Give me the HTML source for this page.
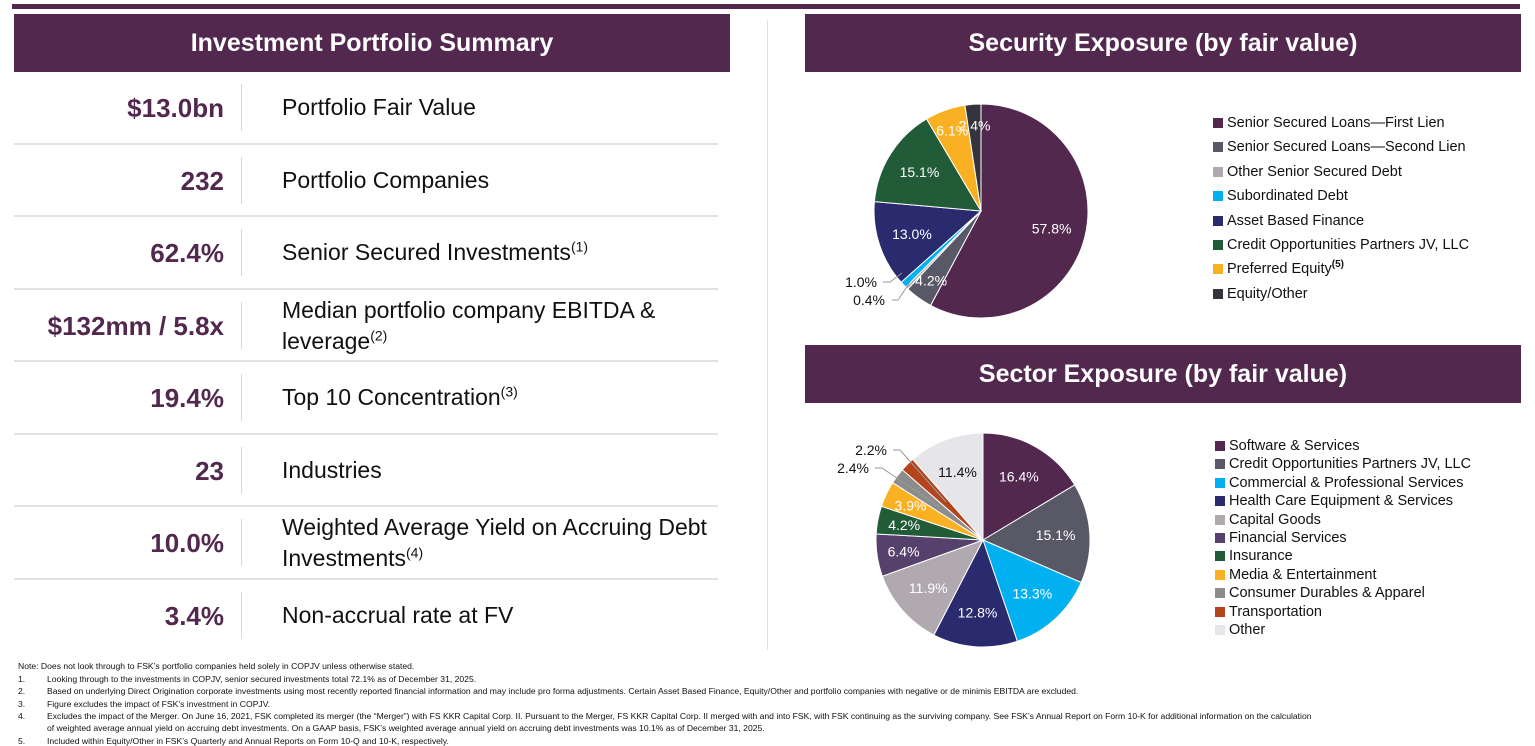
<!DOCTYPE html>
<html><head><meta charset="utf-8"><style>
body{margin:0;width:1535px;height:746px;background:#fff;position:relative;overflow:hidden;font-family:"Liberation Sans",sans-serif}
.abs{position:absolute}
.hdr{position:absolute;background:#52284e;color:#fff;font-weight:bold;font-size:25px;text-align:center;line-height:58px}
.row{position:absolute;left:14px;width:704px;border-bottom:2px solid #e2e2e2}
.val{position:absolute;right:494px;color:#52284e;font-weight:bold;font-size:26px;white-space:nowrap}
.vl{position:absolute;left:227px;width:1px;background:#d8d8d8}
.lab{position:absolute;left:268px;font-size:23px;color:#111;line-height:31px}
sup{font-size:14px;line-height:0}
.lg{position:absolute;font-size:14.5px;color:#111;white-space:nowrap}
.lg i{display:inline-block;width:10px;height:10px;margin-right:4px;vertical-align:-1px}
.fn{position:absolute;left:18px;font-size:8.6px;color:#111;white-space:nowrap}
.fn span{position:absolute;left:0}
.fn b{font-weight:normal;position:absolute;left:29px}
</style></head><body>
<div class="abs" style="left:12px;top:4px;width:1508px;height:5px;background:#52284e"></div>
<div class="hdr" style="left:14px;top:14px;width:716px">Investment Portfolio Summary</div>
<div class="hdr" style="left:805px;top:14px;width:716px">Security Exposure (by fair value)</div>
<div class="hdr" style="left:805px;top:345px;width:716px">Sector Exposure (by fair value)</div>
<div class="abs" style="left:767px;top:20px;width:1px;height:630px;background:#e0e0e0"></div>

<div id="rows"></div>

<svg class="abs" style="left:0;top:0" width="1535" height="746" id="pies"></svg>

<div>
<div class="lg" style="left:1213px;top:115px"><i style="background:#52284e"></i>Senior Secured Loans—First Lien</div>
<div class="lg" style="left:1213px;top:139px"><i style="background:#595867"></i>Senior Secured Loans—Second Lien</div>
<div class="lg" style="left:1213px;top:164px"><i style="background:#b0aab0"></i>Other Senior Secured Debt</div>
<div class="lg" style="left:1213px;top:188px"><i style="background:#00b0f0"></i>Subordinated Debt</div>
<div class="lg" style="left:1213px;top:213px"><i style="background:#292b6e"></i>Asset Based Finance</div>
<div class="lg" style="left:1213px;top:237px"><i style="background:#225b38"></i>Credit Opportunities Partners JV, LLC</div>
<div class="lg" style="left:1213px;top:261px"><i style="background:#f9b123"></i>Preferred Equity<sup style="font-size:10px;font-weight:bold">(5)</sup></div>
<div class="lg" style="left:1213px;top:286px"><i style="background:#34343e"></i>Equity/Other</div>
</div>
<div id="leg2"></div>

<div>
<div class="fn" style="top:661px">Note: Does not look through to FSK’s portfolio companies held solely in COPJV unless otherwise stated.</div>
<div class="fn" style="top:674px"><span>1.</span><b>Looking through to the investments in COPJV, senior secured investments total 72.1% as of December 31, 2025.</b></div>
<div class="fn" style="top:686px"><span>2.</span><b>Based on underlying Direct Origination corporate investments using most recently reported financial information and may include pro forma adjustments. Certain Asset Based Finance, Equity/Other and portfolio companies with negative or de minimis EBITDA are excluded.</b></div>
<div class="fn" style="top:699px"><span>3.</span><b>Figure excludes the impact of FSK’s investment in COPJV.</b></div>
<div class="fn" style="top:711px"><span>4.</span><b>Excludes the impact of the Merger. On June 16, 2021, FSK completed its merger (the “Merger”) with FS KKR Capital Corp. II. Pursuant to the Merger, FS KKR Capital Corp. II merged with and into FSK, with FSK continuing as the surviving company. See FSK’s Annual Report on Form 10-K for additional information on the calculation</b></div>
<div class="fn" style="top:723px"><b>of weighted average annual yield on accruing debt investments. On a GAAP basis, FSK’s weighted average annual yield on accruing debt investments was 10.1% as of December 31, 2025.</b></div>
<div class="fn" style="top:736px"><span>5.</span><b>Included within Equity/Other in FSK’s Quarterly and Annual Reports on Form 10-Q and 10-K, respectively.</b></div>
</div>

<script>
const rowValues=["$13.0bn","232","62.4%","$132mm / 5.8x","19.4%","23","10.0%","3.4%"];
const rowLabels=["Portfolio Fair Value","Portfolio Companies","Senior Secured Investments<sup>(1)</sup>","Median portfolio company EBITDA &amp;<br>leverage<sup>(2)</sup>","Top 10 Concentration<sup>(3)</sup>","Industries","Weighted Average Yield on Accruing Debt<br>Investments<sup>(4)</sup>","Non-accrual rate at FV"];
const secCats=["First Lien","Second Lien","Other Senior Secured","Subordinated","Asset Based Finance","COPJV","Preferred Equity","Equity/Other"];
const secVals=[57.8,4.2,0.4,1.0,13.0,15.1,6.1,2.4];
const secColors=["#52284e","#595867","#b0aab0","#00b0f0","#292b6e","#225b38","#f9b123","#34343e"];
const sectCats=["Software & Services","Credit Opportunities Partners JV, LLC","Commercial & Professional Services","Health Care Equipment & Services","Capital Goods","Financial Services","Insurance","Media & Entertainment","Consumer Durables & Apparel","Transportation","Other"];
const sectVals=[16.4,15.1,13.3,12.8,11.9,6.4,4.2,3.9,2.4,2.2,11.4];
const sectColors=["#52284e","#595867","#00b0f0","#292b6e","#b0aab0","#56406c","#225b38","#f9b123","#8c8c8c","#b4441c","#e6e6ea"];

const rows=document.getElementById('rows');
rowValues.forEach((v,i)=>{
  const top=72+i*72.5;
  const r=document.createElement('div');r.className='row';r.style.top=top+'px';r.style.height='70.5px';
  
  
  if(i==rowValues.length-1)r.style.borderBottom='none';
  const two=rowLabels[i].includes('<br>');
  r.innerHTML=`<div class="val" style="top:21px">${v}</div><div class="vl" style="top:12px;height:47px"></div><div class="lab" style="top:${two?5:20}px">${rowLabels[i]}</div>`;
  rows.appendChild(r);
});

const NS='http://www.w3.org/2000/svg';
const svg=document.getElementById('pies');
function pie(vals,colors,cx,cy,R,name,labelSkip,dark,smallF){
  const tot=vals.reduce((a,b)=>a+b,0);let a0=0;
  vals.forEach((v,i)=>{
    const a1=a0+v/tot*2*Math.PI;
    const p=(a)=>[cx+R*Math.sin(a),cy-R*Math.cos(a)];
    const [x0,y0]=p(a0),[x1,y1]=p(a1);
    const path=document.createElementNS(NS,'path');
    path.setAttribute('d',`M${cx},${cy}L${x0},${y0}A${R},${R} 0 ${a1-a0>Math.PI?1:0} 1 ${x1},${y1}Z`);
    path.setAttribute('fill',colors[i]);path.setAttribute('stroke','#fff');path.setAttribute('stroke-width','1');
    
    
    svg.appendChild(path);
    if(!labelSkip.includes(i)){
      const am=(a0+a1)/2,f=v<7?smallF:0.68;
      const t=document.createElementNS(NS,'text');
      t.setAttribute('x',cx+R*f*Math.sin(am));t.setAttribute('y',cy-R*f*Math.cos(am)+5);
      t.setAttribute('text-anchor','middle');t.setAttribute('font-size','14');
      t.setAttribute('fill',dark.includes(i)?'#111':'#fff');
      t.setAttribute('font-family','Liberation Sans, sans-serif');
      t.textContent=v.toFixed(1)+'%';
      
      
      svg.appendChild(t);
    }
    a0=a1;
  });
}
pie(secVals,secColors,981,211,107,'security',[2,3],[],0.8);
pie(sectVals,sectColors,983,540,107,'sector',[8,9],[10],0.75);
function ext(txt,x,y,lx1,ly1,lx2,ly2,lx3,ly3,name){
  const t=document.createElementNS(NS,'text');
  t.setAttribute('x',x);t.setAttribute('y',y);t.setAttribute('font-size','14');t.setAttribute('text-anchor','end');
  t.setAttribute('font-family','Liberation Sans, sans-serif');t.setAttribute('fill','#111');t.textContent=txt;
  
  
  svg.appendChild(t);
  const l=document.createElementNS(NS,'polyline');
  l.setAttribute('points',`${lx1},${ly1} ${lx2},${ly2} ${lx3},${ly3}`);l.setAttribute('fill','none');l.setAttribute('stroke','#999');
  svg.appendChild(l);
}
ext(secVals[3].toFixed(1)+'%',877,287,883,282,890,282,902,273,'subordinated-label');
ext(secVals[2].toFixed(1)+'%',885,305,892,300,898,300,910,282,'other-senior-label');
ext(sectVals[9].toFixed(1)+'%',887,455,893,450,900,450,946,502,'transportation-label');
ext(sectVals[8].toFixed(1)+'%',869,473,875,468,882,468,940,507,'consumer-label');

const leg2=document.getElementById('leg2');
sectCats.forEach((c,i)=>{
  const d=document.createElement('div');d.className='lg';d.style.left='1215px';d.style.top=(438+i*18.4)+'px';
  
  
  d.innerHTML=`<i style="background:${sectColors[i]}"></i>${c.replace('&','&amp;')}`;
  leg2.appendChild(d);
});
</script>
</body></html>
